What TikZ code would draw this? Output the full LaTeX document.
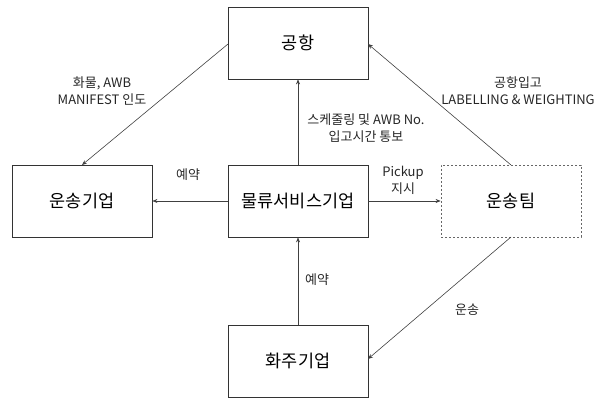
\documentclass[tikz,border=0pt]{standalone}
\usepackage{fontspec}
\setmainfont{Noto Sans CJK KR}
\usetikzlibrary{arrows.meta}
\begin{document}
\begin{tikzpicture}[x=1pt,y=-1pt,
  box/.style={draw=black!80,line width=0.8pt,minimum width=140pt,minimum height=72pt,inner sep=0pt,font=\fontsize{17.5}{20}\selectfont},
  dbox/.style={box,dashed,dash pattern=on 2pt off 2pt,draw=black!60},
  conn/.style={draw=black!75,line width=0.6pt,-{Stealth[length=5pt,width=4pt]}},
  lbl/.style={font=\fontsize{13}{17}\selectfont,align=center,inner sep=0pt,text=black!85}]
\useasboundingbox (0,0) rectangle (603,398);
\node[box] (air) at (298,43) {공항};
\node[box] (car) at (82,201) {운송기업};
\node[box] (lsp) at (298,201) {물류서비스기업};
\node[dbox] (team) at (511,201) {운송팀};
\node[box] (ship) at (298,361) {화주기업};
\coordinate (airL) at (228,44);
\coordinate (airR) at (368,44);
\coordinate (carT) at (82,165);
\coordinate (teamT) at (511,165);
\coordinate (teamB) at (511,237);
\coordinate (shipR) at (368,359);
\draw[conn] (airL) -- (carT);
\draw[conn] (lsp.north) -- (air.south);
\draw[conn] (teamT) -- (airR);
\draw[conn] (lsp.west) -- (car.east);
\draw[conn] (lsp.east) -- (team.west);
\draw[conn] (ship.north) -- (lsp.south);
\draw[conn] (teamB) -- (shipR);
\node[lbl] (l1) at (102,91) {화물, AWB\\MANIFEST 인도};
\node[lbl] (l2) at (366,128) {스케줄링 및 AWB No.\\입고시간 통보};
\node[lbl] (l3) at (518,91) {공항입고\\LABELLING \& WEIGHTING};
\node[lbl] (l4) at (188,175) {예약};
\node[lbl] (l5) at (403,180) {Pickup\\지시};
\node[lbl] (l6) at (317,280) {예약};
\node[lbl] (l7) at (467,310) {운송};
\end{tikzpicture}
\end{document}
